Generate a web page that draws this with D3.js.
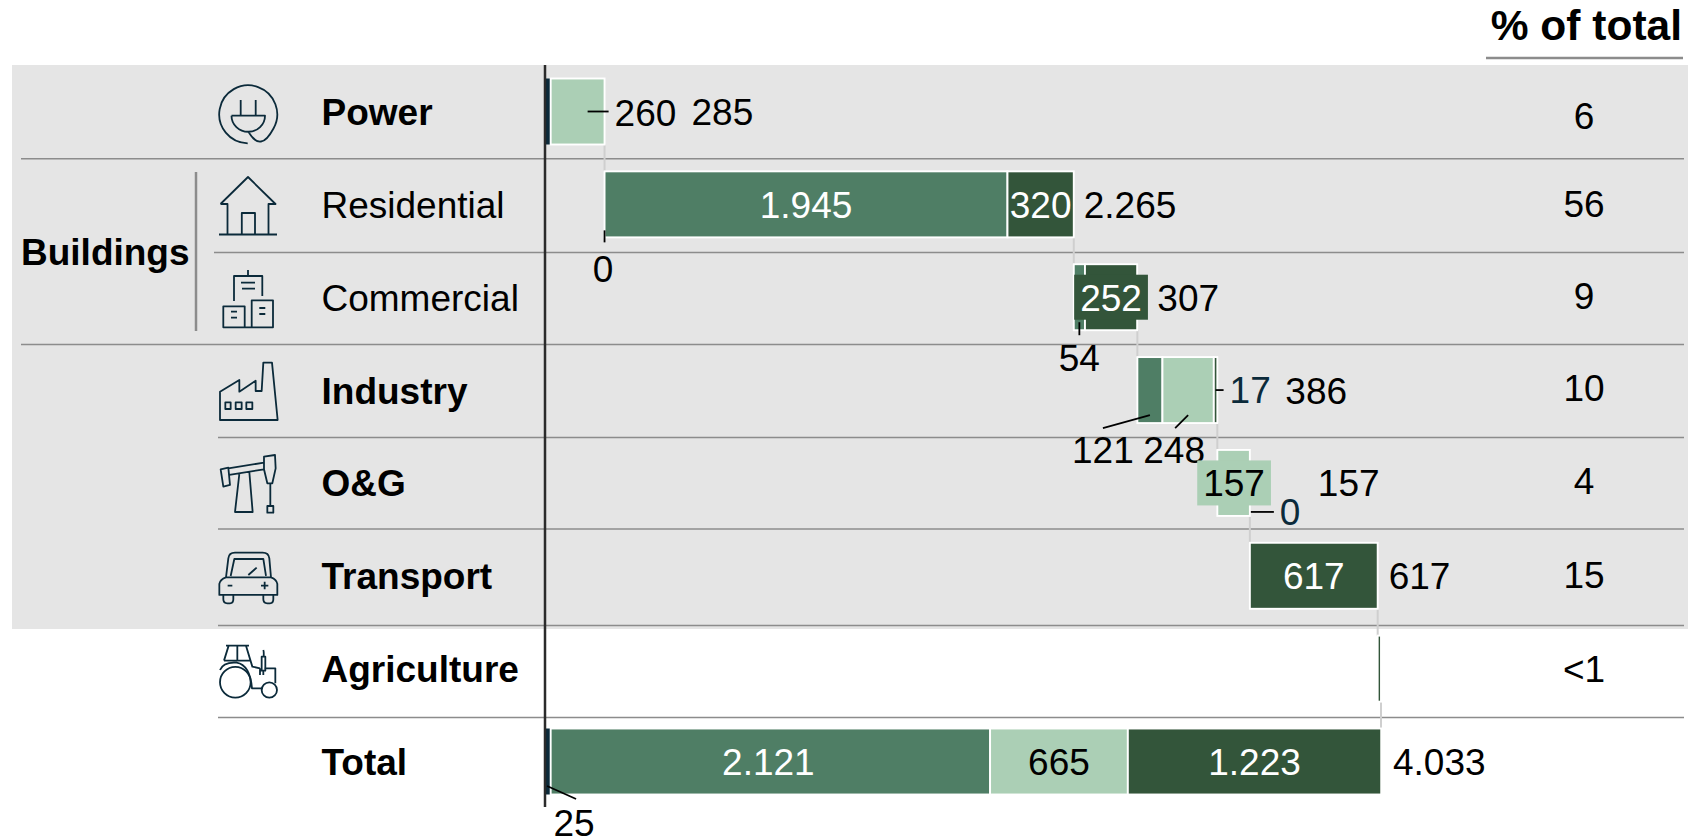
<!DOCTYPE html>
<html><head><meta charset="utf-8">
<script src="https://cdn.jsdelivr.net/npm/d3@7/dist/d3.min.js"></script>
<style>html,body{margin:0;padding:0;background:#fff;overflow:hidden}svg{display:block}text{font-family:"Liberation Sans",Arial,sans-serif}</style>
</head><body><svg id="c" width="1688" height="838"></svg>
<script>
// ---- data ----
const sectors = ["Power","Residential","Commercial","Industry","O&G","Transport","Agriculture","Total"];
const seriesNavy  = [25,0,0,0,0,0,0,25];
const seriesMid   = [0,1945,54,121,0,0,0,2121];
const seriesLight = [260,0,0,248,157,0,0,665];
const seriesDark  = [0,320,252,17,0,617,16,1223];
const rowTotals   = [285,2265,307,386,157,617,16,4033];
const shareLabels = ["6","56","9","10","4","15","<1",""];
const boldSectors = ["Power","Industry","O&G","Transport","Agriculture","Total"];
const fmt = v => { const s = String(v); return s.length > 3 ? s.slice(0,-3)+"."+s.slice(-3) : s; };

// ---- layout ----
const C = {navy:"#0b2a3a", mid:"#4f7e65", light:"#abcfb5", dark:"#33553a", grid:"#8c8c8c", bg:"#e5e5e5", conn:"#cfcfcf"};
const FS = 37;
const svg = d3.select("#c");
const x = d3.scaleLinear().domain([0,4033]).range([545.5,1381]);
const y = d3.scalePoint().domain(sectors).range([111.5,761.5]);
const barH = 66;
const serNames = ["navy","mid","light","dark"];
const serVals = [seriesNavy,seriesMid,seriesLight,seriesDark];

// waterfall offsets
let running = 0;
const rows = sectors.map((s,i)=>{
  const start = s==="Total" ? 0 : running;
  if (s!=="Total") running += rowTotals[i];
  let c = start;
  const segs = serNames.map((n,k)=>{ const v=serVals[k][i]; const seg={key:n,v,x0:c,x1:c+v}; c+=v; return seg;});
  return {s,i,start,end:start+rowTotals[i],segs};
});
const seg = (r,k)=>rows[r].segs[serNames.indexOf(k)];

// background, header
svg.append("rect").attr("x",12).attr("y",65).attr("width",1676).attr("height",564).attr("fill",C.bg);
svg.append("text").attr("x",1682).attr("y",40).attr("text-anchor","end").attr("font-size",42.5).attr("font-weight","bold").text("% of total");
svg.append("line").attr("x1",1486).attr("x2",1683).attr("y1",58).attr("y2",58).attr("stroke",C.grid).attr("stroke-width",2.5);

// separators
const seps = [[21,158.7],[214,252.5],[21,344.5],[218,437.5],[218,529],[218,625.5],[218,717.5]];
svg.selectAll(".sep").data(seps).join("line").attr("x1",d=>d[0]).attr("x2",1684).attr("y1",d=>d[1]).attr("y2",d=>d[1]).attr("stroke",C.grid).attr("stroke-width",1.5);

// bracket + group label
svg.append("line").attr("x1",196).attr("x2",196).attr("y1",172).attr("y2",331).attr("stroke",C.grid).attr("stroke-width",2.5);
svg.append("text").attr("x",21).attr("y",265).attr("font-size",FS).attr("font-weight","bold").text("Buildings");

// row labels, shares
const shareDy = [17,13,12,11,11,12,13,13];
svg.selectAll(".rl").data(sectors).join("text").attr("x",321.5).attr("y",d=>y(d)+13.5)
  .attr("font-size",FS).attr("font-weight",d=>boldSectors.includes(d)?"bold":"normal").text(d=>d);
svg.selectAll(".sh").data(sectors).join("text").attr("x",1584).attr("y",(d,i)=>y(d)+shareDy[i]).attr("text-anchor","middle")
  .attr("font-size",FS).text((d,i)=>shareLabels[i]);

// connectors
const connectors = rows.slice(0,7).map((r,i)=>({x:r.end,y1:y(r.s)+barH/2,y2:y(rows[i+1].s)-barH/2, i}));
svg.selectAll(".conn").data(connectors).join("line")
  .attr("x1",d=>x(d.x)).attr("x2",d=>x(d.x)).attr("y1",d=>d.y1).attr("y2",d=>d.y2)
  .attr("stroke",C.conn).attr("stroke-width",2);

// bars
rows.forEach(r=>{
  svg.append("g").selectAll("rect").data(r.segs.filter(d=>d.v>0).sort((a,b)=>(a.key==="navy"?-1:0)-(b.key==="navy"?-1:0))).join("rect")
    .attr("x",d=>x(d.x0)).attr("width",d=>x(d.x1)-x(d.x0))
    .attr("y",y(r.s)-barH/2).attr("height",barH)
    .attr("fill",d=>C[d.key]).attr("stroke",d=>d.key==="navy"?"none":"#fff").attr("stroke-width",1.9);
});

// axis line
svg.append("line").attr("x1",545).attr("x2",545).attr("y1",65).attr("y2",807).attr("stroke","#2b2b2b").attr("stroke-width",2.5);

// leaders (offsets relative to the segment's centre x and row centre y)
const leaders = [
 {r:0,k:"light",l:[10,0,31,0],t:[37,14],a:"start",c:"#000"},
 {r:7,k:"navy",l:[-1,24.5,28,37.5],t:[26,74],a:"middle",c:"#000"},
 {r:1,k:"navy",l:[0,26,0,38],t:[-1.5,78],a:"middle",c:"#000"},
 {r:2,k:"mid",l:[0,25,0,38],t:[0,74],a:"middle",c:"#000"},
 {r:3,k:"mid",l:[0,25,-47,38],t:[-47,73],a:"middle",c:"#000"},
 {r:3,k:"light",l:[0,25,-13,38],t:[-14,73],a:"middle",c:"#000"},
 {r:3,k:"dark",l:[0,0,8,0],t:[14,13],a:"start",c:C.navy},
 {r:4,k:"dark",l:[1,29,24,29],t:[30,42],a:"start",c:C.navy}
];
leaders.forEach(L=>{
  const s=seg(L.r,L.k), cx=x((s.x0+s.x1)/2), cy=y(sectors[L.r]);
  svg.append("line").attr("x1",cx+L.l[0]).attr("y1",cy+L.l[1]).attr("x2",cx+L.l[2]).attr("y2",cy+L.l[3]).attr("stroke","#000").attr("stroke-width",1.8);
  svg.append("text").attr("x",cx+L.t[0]).attr("y",cy+L.t[1]).attr("text-anchor",L.a).attr("font-size",FS).attr("fill",L.c).text(fmt(s.v));
});

// in-bar labels
const inBar = [
 {r:1,k:"mid",c:"#fff"},{r:1,k:"dark",c:"#fff"},
 {r:2,k:"dark",c:"#fff",box:1},{r:4,k:"light",c:"#000",box:1,dx:0.5},
 {r:5,k:"dark",c:"#fff"},{r:7,k:"mid",c:"#fff",dx:-2},{r:7,k:"light",c:"#000"},{r:7,k:"dark",c:"#fff"}
];
inBar.forEach(L=>{
  const s=seg(L.r,L.k), cx=x((s.x0+s.x1)/2)+(L.dx||0), cy=y(sectors[L.r]);
  const box = L.box ? svg.append("rect") : null;
  const t = svg.append("text").attr("x",cx).attr("y",cy+13.5).attr("text-anchor","middle").attr("font-size",FS).attr("fill",L.c).text(fmt(s.v));
  if(box){const w=t.node().getComputedTextLength()+12; box.attr("x",cx-w/2).attr("y",cy-22.5).attr("width",w).attr("height",45).attr("fill",C[L.k]);}
});

// row totals (gap after the bar end, per row)
const totalGap = [87,10,20,68,68,11,null,12];
rows.forEach((r,i)=>{
  if(totalGap[i]===null) return;
  svg.append("text").attr("x",x(r.end)+totalGap[i]).attr("y",y(r.s)+13.5).attr("font-size",FS).text(fmt(rowTotals[i]));
});

// icons (drawn in zoom-crop coordinates: 3 units per px, origin at 190,340)
const ic = svg.append("g").attr("fill","none").attr("stroke",C.navy).attr("stroke-width",1.8).attr("stroke-linejoin","round");
const P = (g,d)=>g.append("path").attr("d",d);
// Power
P(ic,"M247.7 143.3A29 29 0 1 1 273.5 128.5C270 135 266 141 261 141.5C255 142.5 251 136 248.3 131.7M240.7 100V115.7M255.7 100V115.7M231.5 115.7H265A16.7 16 0 0 1 231.5 115.7");
// House
P(ic,"M220.5 204L248 177L275.5 204H268.5V234.5M220.5 204H227.5V234.5M219 234.5H277M241.8 234.5V213H255V234.5");
// Commercial
P(ic,"M248 270V276M234 301V276H262.3V296M241 282.7H255M242 288.7H255M223.3 306.3H244.7V327.3H223.3ZM251.7 300.3H273V327.3H251.7ZM244.7 327.3H251.7M231 311.7H237M231 317.7H237M259.3 308H265.3M259.3 314H265.3");
const z = ic.append("g").attr("transform","translate(190,340) scale(0.3333)").attr("stroke-width",5.4);
// Industry
P(z,"M90 240V155L148 120V155L197 122V153H215L220 68H246L263 240ZM106 187H122V207H106ZM137 187H155V207H137ZM169 187H187V207H169Z");
// O&G
P(z,"M115 385L222 368M118 405L222 388M92 388L115 383L120 435L100 440ZM222 350L255 345L257 385L247 430H232L222 388ZM148 402L135 516H188L178 396M241 430V498M232 498H250V518H232Z");
// Transport
P(z,"M108 712L115 655Q117 638 135 638H218Q236 638 238 655L243 712M122 708L133 657H220L228 708M175 705L200 683M88 765V732Q90 718 108 712H243Q260 718 262 732V765ZM100 765V778Q100 790 112 790H120Q130 790 130 778V765M220 765V778Q220 790 232 790H240Q250 790 250 778V765M113 737H127M213 737H235M224 725V748");
// Agriculture
P(z,"M108 917H177M116 917L102 962M142 917V962M168 917L187 980L210 985M90 990Q100 965 140 968Q180 975 186 1045H218M102 962H180M210 985V1005M223 985H256V1030M215 950H226V992H215ZM220 930Q222 935 221 950M220 992V1005");
z.append("circle").attr("cx",136).attr("cy",1027).attr("r",46);
z.append("circle").attr("cx",238).attr("cy",1050).attr("r",23);
</script></body></html>
